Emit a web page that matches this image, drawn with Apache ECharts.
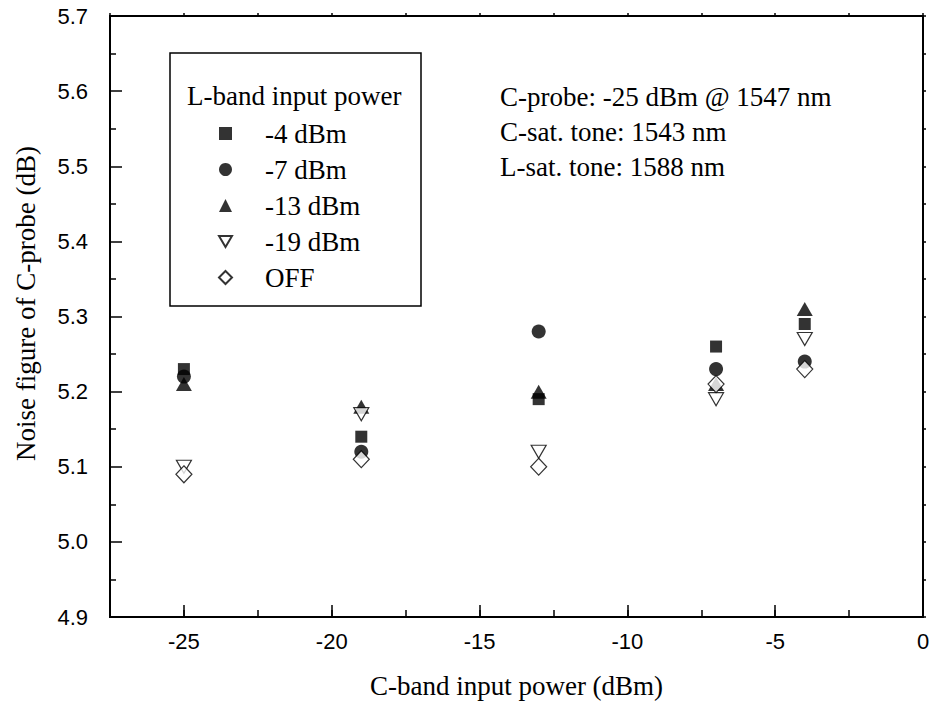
<!DOCTYPE html>
<html>
<head>
<meta charset="utf-8">
<title>Noise figure of C-probe</title>
<script src="https://cdn.jsdelivr.net/npm/echarts@6/dist/echarts.min.js"></script>
<style>
    html, body { margin: 0; padding: 0; background: #fff; }
    #chart { width: 933px; height: 709px; }
</style>
</head>
<body>
<div id="chart"></div>
<script>
// C-band input power (dBm)
var cPower = [-25, -19, -13, -7, -4];
// noise figure (dB) for each L-band input power
var nfL4 = [5.23, 5.14, 5.19, 5.26, 5.29];
var nfL7 = [5.22, 5.12, 5.28, 5.23, 5.24];
var nfL13 = [5.21, 5.18, 5.20, 5.21, 5.31];
var nfL19 = [5.10, 5.17, 5.12, 5.19, 5.27];
var nfOff = [5.09, 5.11, 5.10, 5.21, 5.23];
var seriesNames = ['-4 dBm', '-7 dBm', '-13 dBm', '-19 dBm', 'OFF'];
var legendTitle = 'L-band input power';
var notes = ['C-probe: -25 dBm @ 1547 nm', 'C-sat. tone: 1543 nm', 'L-sat. tone: 1588 nm'];

var SERIF = "'Liberation Serif', 'Times New Roman', serif";
var SANS = "'Liberation Sans', Arial, sans-serif";

function pairs(ys) {
    return cPower.map(function (x, i) { return [x, ys[i]]; });
}

var filled = { color: '#000' };
var hollow = { color: '#fff', borderColor: '#000', borderWidth: 1.2 };

var series = [
    { name: seriesNames[0], type: 'scatter', data: pairs(nfL4), symbol: 'rect', symbolSize: 12, itemStyle: filled },
    { name: seriesNames[1], type: 'scatter', data: pairs(nfL7), symbol: 'circle', symbolSize: 14, itemStyle: filled },
    { name: seriesNames[2], type: 'scatter', data: pairs(nfL13), symbol: 'triangle', symbolSize: [16, 14], itemStyle: filled },
    { name: seriesNames[3], type: 'scatter', data: pairs(nfL19), symbol: 'path://M0,0L2,0L1,1.73Z', symbolSize: [15, 13], itemStyle: hollow },
    { name: seriesNames[4], type: 'scatter', data: pairs(nfOff), symbol: 'diamond', symbolSize: [16, 17], itemStyle: hollow }
];
series.forEach(function (s) {
    s.xAxisIndex = 0;
    s.yAxisIndex = 0;
    s.emphasis = { disabled: true };
});

var tickStyle = { color: '#000', width: 1.5 };

var chart = echarts.init(document.getElementById('chart'), null, { renderer: 'svg' });

var option = {
    backgroundColor: '#fff',
    animation: false,
    grid: {
        left: 110, right: 10, top: 16, bottom: 92,
        show: true, borderColor: '#000', borderWidth: 2, backgroundColor: 'transparent'
    },
    legend: {
        orient: 'vertical',
        left: 213,
        top: 115,
        itemWidth: 13,
        itemHeight: 13,
        itemGap: 9,
        selectedMode: false,
        data: seriesNames,
        textStyle: { fontFamily: SERIF, fontSize: 27, color: '#000', padding: [0, 0, 0, 28] }
    },
    xAxis: [{
        type: 'value',
        position: 'bottom',
        min: -27.5, max: 0, interval: 2.5,
        axisLine: { show: true, onZero: false, lineStyle: { color: '#000', width: 2 } },
        axisTick: { show: true, inside: true, length: 7, lineStyle: tickStyle },
        splitLine: { show: false },
        axisLabel: {
            showMaxLabel: true,
            showMinLabel: false,
            margin: 13,
            fontFamily: SANS, fontSize: 22, color: '#000',
            formatter: function (v) { return v % 5 === 0 ? String(v) : ''; }
        },
        name: 'C-band input power (dBm)',
        nameLocation: 'middle',
        nameGap: 55,
        nameTextStyle: { fontFamily: SERIF, fontSize: 27, color: '#000' }
    }, {
        // major ticks every 5 dBm, counted from 0 on a mirrored axis
        type: 'value',
        position: 'bottom',
        inverse: true,
        min: 0, max: 27.5, interval: 5,
        axisLine: { show: false, onZero: false },
        axisTick: { show: true, inside: true, length: 12, lineStyle: tickStyle },
        axisLabel: { show: false },
        splitLine: { show: false }
    }, {
        type: 'value',
        position: 'top',
        min: -27.5, max: 0, interval: 2.5,
        axisLine: { show: false, onZero: false },
        axisTick: { show: true, inside: false, length: 3, lineStyle: tickStyle },
        axisLabel: { show: false },
        splitLine: { show: false }
    }],
    yAxis: [{
        type: 'value',
        position: 'left',
        min: 4.9, max: 5.7, interval: 0.1,
        axisLine: { show: true, onZero: false, lineStyle: { color: '#000', width: 2 } },
        axisTick: { show: true, inside: true, length: 12, lineStyle: tickStyle },
        minorTick: { show: true, splitNumber: 2, length: 6, lineStyle: tickStyle },
        splitLine: { show: false },
        minorSplitLine: { show: false },
        axisLabel: {
            margin: 22,
            fontFamily: SANS, fontSize: 22, color: '#000',
            formatter: function (v) { return v.toFixed(1); }
        },
        name: 'Noise figure of C-probe (dB)',
        nameLocation: 'middle',
        nameGap: 71,
        nameRotate: 90,
        nameTextStyle: { fontFamily: SERIF, fontSize: 27, color: '#000', padding: [0, 0, 0, 26] }
    }, {
        type: 'value',
        position: 'right',
        min: 4.9, max: 5.7, interval: 0.05,
        axisLine: { show: false, onZero: false },
        axisTick: { show: true, inside: false, length: 3, lineStyle: tickStyle },
        axisLabel: { show: false },
        splitLine: { show: false }
    }],
    graphic: [{
        type: 'rect',
        shape: { x: 170, y: 53, width: 251, height: 253 },
        style: { fill: 'none', stroke: '#000', lineWidth: 1.5 },
        silent: true
    }, {
        type: 'text',
        x: 187, y: 96,
        style: { text: legendTitle, font: '27px ' + SERIF, fill: '#000', verticalAlign: 'middle' },
        silent: true
    }, {
        type: 'text',
        x: 500, y: 97,
        style: { text: notes[0], font: '27px ' + SERIF, fill: '#000', verticalAlign: 'middle' },
        silent: true
    }, {
        type: 'text',
        x: 500, y: 132,
        style: { text: notes[1], font: '27px ' + SERIF, fill: '#000', verticalAlign: 'middle' },
        silent: true
    }, {
        type: 'text',
        x: 500, y: 167,
        style: { text: notes[2], font: '27px ' + SERIF, fill: '#000', verticalAlign: 'middle' },
        silent: true
    }],
    series: series
};

chart.setOption(option);
</script>
</body>
</html>
